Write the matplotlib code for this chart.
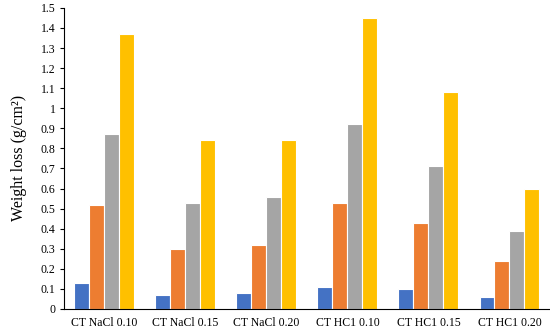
import numpy as np
import matplotlib.pyplot as plt

plt.rcParams['font.family'] = ['Liberation Serif', 'DejaVu Serif']

categories = ['CT NaCl 0.10', 'CT NaCl 0.15', 'CT NaCl 0.20',
              'CT HC1 0.10', 'CT HC1 0.15', 'CT HC1 0.20']
series_1 = [0.13, 0.07, 0.08, 0.11, 0.10, 0.06]
series_2 = [0.52, 0.30, 0.32, 0.53, 0.43, 0.24]
series_3 = [0.87, 0.53, 0.56, 0.92, 0.71, 0.39]
series_4 = [1.37, 0.84, 0.84, 1.45, 1.08, 0.60]
yticks = [0, 0.1, 0.2, 0.3, 0.4, 0.5, 0.6, 0.7, 0.8, 0.9, 1, 1.1, 1.2, 1.3, 1.4, 1.5]

colors = ['#4472C4', '#ED7D31', '#A5A5A5', '#FFC000']

fig = plt.figure(figsize=(5.5, 3.29), dpi=100)
ax = fig.add_axes([0.116, 0.061, 0.884, 0.915])

x = np.arange(len(categories))
w = 0.185
for i, vals in enumerate([series_1, series_2, series_3, series_4]):
    ax.bar(x + (i - 1.5) * w, vals, w, color=colors[i], edgecolor='white', linewidth=0.8)

ax.set_xlim(-0.5, len(categories) - 0.5)
ax.set_ylim(0, 1.5)
ax.set_yticks(yticks)
ax.set_yticklabels(['%g' % t for t in yticks], fontsize=8.5)
ax.set_xticks(x)
ax.set_xticklabels(categories, fontsize=8.5)
ax.tick_params(axis='x', length=0, pad=6)
ax.tick_params(axis='y', length=3, width=0.8, pad=3)
for s in ['top', 'right']:
    ax.spines[s].set_visible(False)
ax.spines['left'].set_color('black')
ax.spines['bottom'].set_color('black')
ax.set_ylabel('Weight loss (g/cm²)', fontsize=11.5, labelpad=10)

fig.savefig('out.png', dpi=100)
